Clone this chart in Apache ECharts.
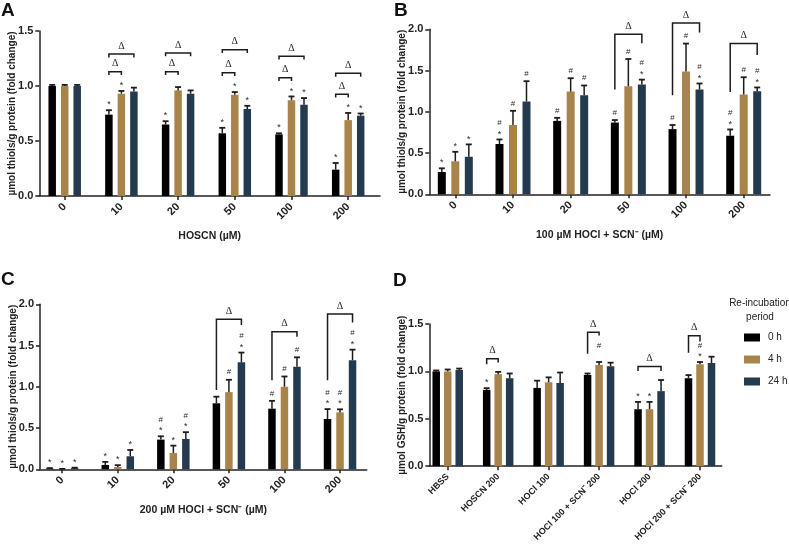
<!DOCTYPE html>
<html><head><meta charset="utf-8">
<script src="https://cdn.jsdelivr.net/npm/echarts@6/dist/echarts.min.js"></script>
<style>html,body{margin:0;padding:0;background:#fff}#c{width:789px;height:544px}</style>
</head><body><div id="c"></div>
<script>
// ---------------- DATA ----------------
const seriesNames = ['0 h', '4 h', '24 h'];

// Panel A
const catsA = ['0', '10', '20', '50', '100', '200'];
const A_0h  = [1.00, 0.74, 0.65, 0.57, 0.56, 0.24];
const A_4h  = [1.00, 0.93, 0.96, 0.92, 0.87, 0.69];
const A_24h = [1.00, 0.95, 0.93, 0.79, 0.83, 0.73];
const A_0h_err  = [0.01, 0.04, 0.03, 0.05, 0.01, 0.06];
const A_4h_err  = [0.01, 0.025, 0.03, 0.025, 0.035, 0.065];
const A_24h_err = [0.01, 0.035, 0.03, 0.03, 0.06, 0.02];
// [category, bar, text]
const marksA = [[1,0,'*'],[1,1,'*'],[2,0,'*'],[3,0,'*'],[3,1,'*'],[3,2,'*'],
  [4,0,'*'],[4,1,'*'],[4,2,'*'],[5,0,'*'],[5,1,'*'],[5,2,'*']];
// [category, fromBar, toBar, top, leftEnd, rightEnd]
const bracketsA = [
  [1,0,1,1.13,1.10,1.10],[1,0,2,1.29,1.26,1.26],
  [2,0,1,1.13,1.10,1.10],[2,0,2,1.30,1.27,1.27],
  [3,0,1,1.12,1.09,1.09],[3,0,2,1.33,1.30,1.30],
  [4,0,1,1.075,1.045,1.045],[4,0,2,1.27,1.24,1.24],
  [5,0,1,0.925,0.895,0.895],[5,0,2,1.115,1.085,1.085]];

// Panel B
const catsB = ['0', '10', '20', '50', '100', '200'];
const B_0h  = [0.27, 0.61, 0.89, 0.87, 0.79, 0.71];
const B_4h  = [0.40, 0.84, 1.245, 1.31, 1.49, 1.21];
const B_24h = [0.455, 1.125, 1.20, 1.33, 1.27, 1.25];
const B_0h_err  = [0.045, 0.055, 0.037, 0.03, 0.05, 0.076];
const B_4h_err  = [0.115, 0.172, 0.162, 0.33, 0.337, 0.209];
const B_24h_err = [0.15, 0.246, 0.119, 0.06, 0.073, 0.045];
const marksB = [[0,0,'*'],[0,1,'*'],[0,2,'*'],
  [1,0,'#\n*'],[1,1,'#'],[1,2,'#'],
  [2,0,'#'],[2,1,'#'],[2,2,'#'],
  [3,0,'#'],[3,1,'#'],[3,2,'#\n*'],
  [4,0,'#'],[4,1,'#'],[4,2,'#\n*'],
  [5,0,'#\n*'],[5,1,'#'],[5,2,'#\n*']];
const bracketsB = [[3,0,2,1.94,1.27,1.83],[4,0,2,2.076,1.20,1.96],[5,0,2,1.827,1.24,1.69]];

// Panel C
const catsC = ['0', '10', '20', '50', '100', '200'];
const C_0h  = [0.01, 0.053, 0.36, 0.80, 0.735, 0.61];
const C_4h  = [0.003, 0.028, 0.198, 0.935, 1.00, 0.69];
const C_24h = [0.015, 0.158, 0.368, 1.297, 1.243, 1.323];
const C_0h_err  = [0.005, 0.037, 0.04, 0.08, 0.095, 0.12];
const C_4h_err  = [0.002, 0.022, 0.089, 0.15, 0.125, 0.037];
const C_24h_err = [0.005, 0.076, 0.082, 0.118, 0.114, 0.127];
const marksC = [[0,0,'*'],[0,1,'*'],[0,2,'*'],
  [1,0,'*'],[1,1,'*'],[1,2,'*'],
  [2,0,'#\n*'],[2,1,'*'],[2,2,'#\n*'],
  [3,1,'#'],[3,2,'#\n*'],
  [4,0,'#'],[4,1,'#'],[4,2,'#'],
  [5,0,'#\n*'],[5,1,'#\n*'],[5,2,'#\n*']];
const bracketsC = [[3,0,2,1.818,0.96,1.75],[4,0,2,1.668,1.08,1.607],[5,0,2,1.882,1.08,1.78]];

// Panel D
const catsD = ['HBSS', 'HOSCN 200', 'HOCl 100', 'HOCl 100 + SCN\u207B 200', 'HOCl 200', 'HOCl 200 + SCN\u207B 200'];
const D_0h  = [1.00, 0.805, 0.826, 0.961, 0.601, 0.927];
const D_4h  = [1.00, 0.971, 0.885, 1.068, 0.601, 1.075];
const D_24h = [1.015, 0.927, 0.878, 1.054, 0.792, 1.089];
const D_0h_err  = [0.01, 0.018, 0.076, 0.017, 0.077, 0.034];
const D_4h_err  = [0.02, 0.024, 0.052, 0.031, 0.077, 0.024];
const D_24h_err = [0.015, 0.051, 0.11, 0.038, 0.117, 0.066];
const marksD = [[1,0,'*'],[3,1,'#\n'],[4,0,'*'],[4,1,'*'],[5,1,'#\n*']];
const bracketsD = [[1,0,1,1.134,1.075,1.093],[3,0,1,1.414,1.186,1.379],[4,0,2,1.051,1.005,1.005],[5,0,1,1.376,1.196,1.316]];

const yTicksA = [0, 0.5, 1.0, 1.5];
const yTicksB = [0, 0.5, 1.0, 1.5, 2.0];

// ---------------- STYLE / LAYOUT ----------------
const FONT = '"Liberation Sans", Arial, Helvetica, sans-serif';
const SERIF = '"Liberation Serif", "Times New Roman", serif';
const COLORS = ['#000000', '#A8844A', '#243A4E'];
const INK = '#222222';

const panels = [
  { cats: catsA, vals: [A_0h, A_4h, A_24h], errs: [A_0h_err, A_4h_err, A_24h_err], marks: marksA, brackets: bracketsA,
    yTicks: yTicksA, yName: '\u00B5mol thiols/g protein (fold change)', xName: 'HOSCN (\u00B5M)',
    grid: {left: 39.3, top: 31, width: 340.7, height: 165}, xmin: -0.448, xmax: 5.561, bw: 7.5, gap: 5, xFont: 11 },
  { cats: catsB, vals: [B_0h, B_4h, B_24h], errs: [B_0h_err, B_4h_err, B_24h_err], marks: marksB, brackets: bracketsB,
    yTicks: yTicksB, yName: '\u00B5mol thiols/g protein (fold change)', xName: '100 \u00B5M HOCl + SCN\u207B (\u00B5M)',
    grid: {left: 429.3, top: 29.3, width: 340.7, height: 165}, xmin: -0.451, xmax: 5.456, bw: 8, gap: 5.5, xFont: 11 },
  { cats: catsC, vals: [C_0h, C_4h, C_24h], errs: [C_0h_err, C_4h_err, C_24h_err], marks: marksC, brackets: bracketsC,
    yTicks: yTicksB, yName: '\u00B5mol thiols/g protein (fold change)', xName: '200 \u00B5M HOCl + SCN\u207B (\u00B5M)',
    grid: {left: 40, top: 304.3, width: 326.7, height: 165}, xmin: -0.40, xmax: 5.48, bw: 7.5, gap: 5, xFont: 11 },
  { cats: catsD, vals: [D_0h, D_4h, D_24h], errs: [D_0h_err, D_4h_err, D_24h_err], marks: marksD, brackets: bracketsD,
    yTicks: yTicksA, yName: '\u00B5mol GSH/g protein (fold change)', xName: '',
    grid: {left: 429.3, top: 324, width: 292.4, height: 144.7}, xmin: -0.365, xmax: 5.43, bw: 7.5, gap: 4, xFont: 9 }
];

function off(P, b) { return (b - 1) * (P.bw + P.gap); }

const grids = [], xAxes = [], yAxes = [], series = [];
panels.forEach((P, pi) => {
  const idx = P.cats.map((_, i) => i);
  const yMax = P.yTicks[P.yTicks.length - 1];
  grids.push(Object.assign({containLabel: false}, P.grid));
  xAxes.push({
    type: 'value', gridIndex: pi, min: P.xmin, max: P.xmax,
    axisLine: {show: true, onZero: false, lineStyle: {color: INK, width: 1.5}},
    axisTick: {show: true, customValues: idx, length: 4, lineStyle: {color: INK, width: 1.5}},
    axisLabel: {customValues: idx, formatter: v => P.cats[Math.round(v)], rotate: 45, margin: 9,
      fontFamily: FONT, fontWeight: 'bold', fontSize: P.xFont, color: INK},
    splitLine: {show: false},
    name: P.xName, nameLocation: 'middle', nameGap: 35, nameMoveOverlap: false,
    nameTextStyle: {fontFamily: FONT, fontWeight: 'bold', fontSize: 10.5, color: INK}
  });
  yAxes.push({
    type: 'value', gridIndex: pi, min: 0, max: yMax, interval: 0.5,
    axisLine: {show: true, onZero: false, lineStyle: {color: INK, width: 1.5}},
    axisTick: {show: true, length: 4, lineStyle: {color: INK, width: 1.5}},
    axisLabel: {formatter: v => v.toFixed(1), margin: 6, fontFamily: FONT, fontWeight: 'bold', fontSize: 11, color: INK},
    splitLine: {show: false},
    name: P.yName, nameLocation: 'middle', nameGap: 22, nameRotate: 90, nameMoveOverlap: false,
    nameTextStyle: {fontFamily: FONT, fontWeight: 'bold', fontSize: 10, color: INK}
  });
  // bars
  for (let b = 0; b < 3; b++) {
    series.push({
      type: 'bar', name: seriesNames[b], xAxisIndex: pi, yAxisIndex: pi,
      barWidth: P.bw, barGap: (P.gap / P.bw * 100).toFixed(1) + '%',
      itemStyle: {color: COLORS[b]}, silent: true, z: 2,
      data: P.vals[b].map((v, i) => [i, v])
    });
  }
  // error bars
  const errData = [];
  for (let b = 0; b < 3; b++) P.vals[b].forEach((v, i) => errData.push([i, b, v, v + P.errs[b][i]]));
  series.push({
    type: 'custom', name: 'err' + pi, xAxisIndex: pi, yAxisIndex: pi, z: 3, silent: true,
    encode: {x: 0, y: 3}, data: errData,
    renderItem(params, api) {
      const x = api.value(0), b = api.value(1);
      const p0 = api.coord([x, api.value(2)]), p1 = api.coord([x, api.value(3)]);
      const cx = p0[0] + off(P, b);
      const st = {stroke: '#1c1c1c', lineWidth: 1.5};
      return {type: 'group', children: [
        {type: 'line', shape: {x1: cx, y1: p0[1], x2: cx, y2: p1[1]}, style: st},
        {type: 'line', shape: {x1: cx - 3, y1: p1[1], x2: cx + 3, y2: p1[1]}, style: {stroke: '#1c1c1c', lineWidth: 1.8}}
      ]};
    }
  });
  // significance marks
  const markData = P.marks.map(m => [m[0], m[1], P.vals[m[1]][m[0]] + P.errs[m[1]][m[0]]]);
  series.push({
    type: 'custom', name: 'marks' + pi, xAxisIndex: pi, yAxisIndex: pi, z: 4, silent: true,
    encode: {x: 0, y: 2}, data: markData,
    renderItem(params, api) {
      const x = api.value(0), b = api.value(1);
      const p = api.coord([x, api.value(2)]);
      const cx = p[0] + off(P, b);
      const lines = P.marks[params.dataIndex][2].split('\n').reverse();
      const children = [];
      lines.forEach((t, k) => {
        if (!t) return;
        const fs = t === '*' ? 9 : 8;
        const cy = p[1] - 7.5 - k * 9 + (t === '*' ? 0.24 * fs : 0);
        children.push({type: 'text', style: {text: t, x: cx, y: cy, align: 'center', verticalAlign: 'middle',
          font: 'normal ' + fs + 'px ' + FONT, fill: '#2a2a2a'}});
      });
      return {type: 'group', children};
    }
  });
  // brackets
  series.push({
    type: 'custom', name: 'brackets' + pi, xAxisIndex: pi, yAxisIndex: pi, z: 4, silent: true,
    encode: {x: 0, y: 3}, data: P.brackets,
    renderItem(params, api) {
      const x = api.value(0), f = api.value(1), t = api.value(2);
      const pT = api.coord([x, api.value(3)]), pL = api.coord([x, api.value(4)]), pR = api.coord([x, api.value(5)]);
      const xl = pT[0] + off(P, f), xr = pT[0] + off(P, t);
      return {type: 'group', children: [
        {type: 'polyline', shape: {points: [[xl, pL[1]], [xl, pT[1]], [xr, pT[1]], [xr, pR[1]]]},
          style: {stroke: '#1c1c1c', lineWidth: 1.5, fill: null}},
        {type: 'text', style: {text: '\u0394', x: (xl + xr) / 2, y: pT[1] - 8, align: 'center', verticalAlign: 'middle',
          font: 'normal 10px ' + SERIF, fill: '#2a2a2a'}}
      ]};
    }
  });
});

const letter = (t, x, y) => ({type: 'text', x: x, y: y, silent: true,
  style: {text: t, font: 'bold 19px ' + FONT, fill: '#111', verticalAlign: 'top'}});

const chart = echarts.init(document.getElementById('c'), null, {renderer: 'canvas'});
chart.setOption({
  animation: false,
  backgroundColor: '#ffffff',
  grid: grids, xAxis: xAxes, yAxis: yAxes, series,
  legend: {
    data: seriesNames, orient: 'vertical', left: 744, top: 331, icon: 'rect', padding: 0,
    itemWidth: 16, itemHeight: 8, itemGap: 9, selectedMode: false,
    textStyle: {fontFamily: FONT, fontSize: 10, color: INK, lineHeight: 13, padding: [0, 0, 0, 3]}
  },
  graphic: [
    letter('A', 1, 1), letter('B', 394, 1), letter('C', 1, 270), letter('D', 393, 271),
    {type: 'text', x: 760, y: 296, silent: true,
      style: {text: 'Re-incubation\nperiod', font: 'normal 10px ' + FONT, fill: INK, align: 'center', verticalAlign: 'top', lineHeight: 14}}
  ]
});
</script></body></html>
